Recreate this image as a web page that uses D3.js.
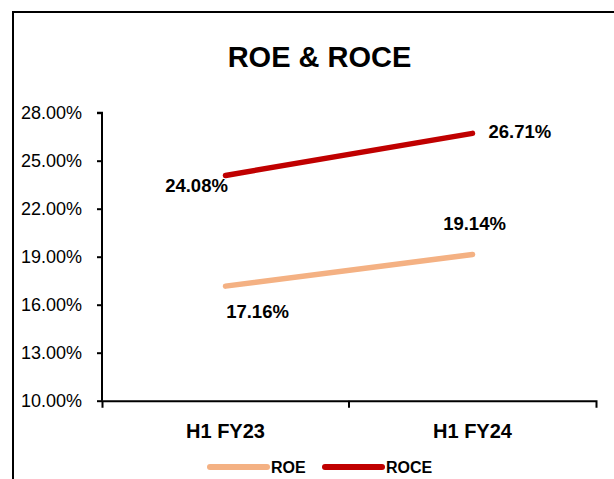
<!DOCTYPE html>
<html>
<head>
<meta charset="utf-8">
<script src="https://cdn.jsdelivr.net/npm/d3@7"></script>
<style>
  body { margin: 0; background: #fff; }
  svg { display: block; font-family: "Liberation Sans", Arial, sans-serif; }
</style>
</head>
<body>
<div class="canvas"></div>
<script>
const categories = ['H1 FY23', 'H1 FY24'];
const roe = [17.16, 19.14];
const roce = [24.08, 26.71];
const yTicks = [10, 13, 16, 19, 22, 25, 28];

const dims = { width: 614, height: 479 };
const plot = { left: 102, right: 596, top: 112.7, bottom: 400.7 };

const svg = d3.select('.canvas')
  .append('svg')
    .attr('width', dims.width)
    .attr('height', dims.height)

// chart frame (cut off on the right and bottom)
svg.append('rect')
  .attr('x', 13)
  .attr('y', 12)
  .attr('width', 700)
  .attr('height', 600)
  .attr('fill', 'none')
  .attr('stroke', '#000')
  .attr('stroke-width', 2)

svg.append('text')
  .attr('x', 319.5)
  .attr('y', 67)
  .attr('text-anchor', 'middle')
  .attr('font-size', 29)
  .attr('font-weight', 'bold')
  .text('ROE & ROCE')

const x = d3.scaleBand()
  .domain(categories)
  .range([plot.left, plot.right])
  .padding(0)

const y = d3.scaleLinear()
  .domain([10, 28])
  .range([plot.bottom, plot.top])

const yAxis = svg.append('g')
  .attr('transform', `translate(${plot.left}, 0)`)
  .call(d3.axisLeft(y).tickValues(yTicks).tickSize(5).tickPadding(15)
    .tickFormat(d => d.toFixed(2) + '%'))
yAxis.selectAll('path, line').attr('stroke', '#000').attr('stroke-width', 2)
yAxis.select('.domain').attr('d', `M-5,${y(28)}H0V${y(10)}`)
yAxis.selectAll('text')
  .attr('font-size', 18)
  .attr('fill', '#000')
  .attr('font-family', 'Liberation Sans, Arial, sans-serif')

const xAxis = svg.append('g')
  .attr('transform', `translate(0, ${plot.bottom})`)
  .call(d3.axisBottom(x).tickSizeInner(0).tickSizeOuter(7).tickPadding(0))
xAxis.select('.domain').attr('stroke', '#000').attr('stroke-width', 2)
xAxis.selectAll('.tick line').remove()
xAxis.selectAll('.tick text')
  .attr('y', 37)
  .attr('dy', 0)
  .attr('font-size', 20)
  .attr('font-weight', 'bold')
  .attr('fill', '#000')
  .attr('font-family', 'Liberation Sans, Arial, sans-serif')
// boundary tick between the two categories
xAxis.append('line')
  .attr('x1', x(categories[1]))
  .attr('x2', x(categories[1]))
  .attr('y1', 0)
  .attr('y2', 7)
  .attr('stroke', '#000')
  .attr('stroke-width', 2)

const cx = d => x(d) + x.bandwidth() / 2

const series = [
  { name: 'ROE', values: roe, color: '#F4B183',
    labels: [{ dx: 32, dy: 32, anchor: 'middle' }, { dx: 2, dy: -24, anchor: 'middle' }] },
  { name: 'ROCE', values: roce, color: '#C00000',
    labels: [{ dx: -29, dy: 17, anchor: 'middle' }, { dx: 16, dy: 5, anchor: 'start' }] }
];

const line = d3.line()
  .x((d, i) => cx(categories[i]))
  .y(d => y(d))

series.forEach(s => {
  svg.append('path')
    .attr('d', line(s.values))
    .attr('fill', 'none')
    .attr('stroke', s.color)
    .attr('stroke-width', 5.5)
    .attr('stroke-linecap', 'round')

  s.values.forEach((v, i) => {
    const l = s.labels[i];
    svg.append('text')
      .attr('x', cx(categories[i]) + l.dx)
      .attr('y', y(v) + l.dy)
      .attr('text-anchor', l.anchor)
      .attr('font-size', 18.5)
      .attr('font-weight', 'bold')
      .text(v.toFixed(2) + '%')
  })
})

// legend
const legendX = [210, 325];
series.forEach((s, i) => {
  const g = svg.append('g')
    .attr('transform', `translate(${legendX[i]}, 467)`)
  g.append('line')
    .attr('x1', 0)
    .attr('x2', 57)
    .attr('stroke', s.color)
    .attr('stroke-width', 6)
    .attr('stroke-linecap', 'round')
  g.append('text')
    .attr('x', 61)
    .attr('y', 6)
    .attr('font-size', 16)
    .attr('font-weight', 'bold')
    .text(s.name)
})
</script>
</body>
</html>
